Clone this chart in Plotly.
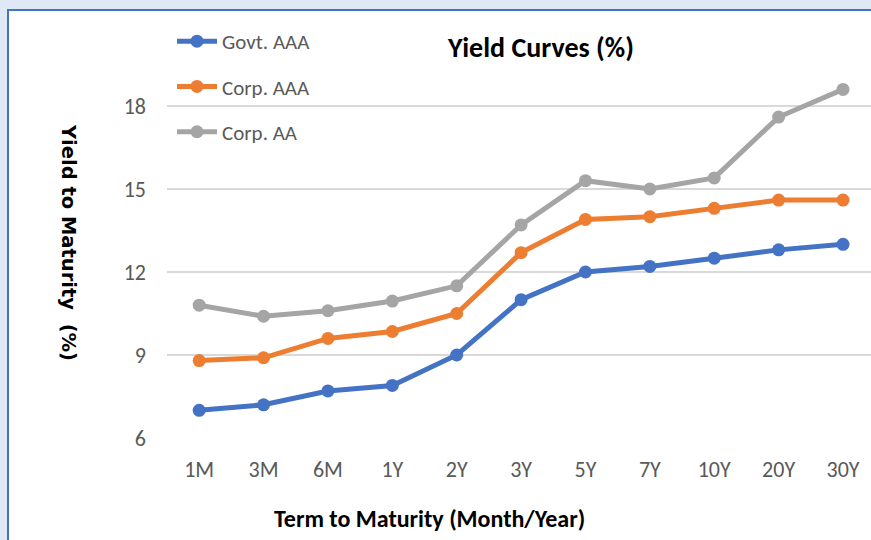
import plotly.graph_objects as go

terms = ["1M", "3M", "6M", "1Y", "2Y", "3Y", "5Y", "7Y", "10Y", "20Y", "30Y"]
govt_aaa = [7.0, 7.2, 7.7, 7.9, 9.0, 11.0, 12.0, 12.2, 12.5, 12.8, 13.0]
corp_aaa = [8.8, 8.9, 9.6, 9.85, 10.5, 12.7, 13.9, 14.0, 14.3, 14.6, 14.6]
corp_aa = [10.8, 10.4, 10.6, 10.95, 11.5, 13.7, 15.3, 15.0, 15.4, 17.6, 18.6]
y_ticks = [6, 9, 12, 15, 18]

series = [("Govt. AAA", govt_aaa, "#4472C4"),
          ("Corp. AAA", corp_aaa, "#ED7D31"),
          ("Corp. AA", corp_aa, "#A5A5A5")]

W, H = 871, 540
L, R, T, B = 167, 0, 30, 102
pw, ph = W - L - R, H - T - B

fig = go.Figure()
for i, (name, vals, col) in enumerate(series):
    fig.add_trace(go.Scatter(
        x=list(range(len(terms))), y=vals, name=name, mode="lines+markers",
        line=dict(color=col, width=5), marker=dict(color=col, size=13),
        legendgroup=f"g{i}"))

narrow = "Carlito, 'DejaVu Sans Condensed', 'Liberation Sans Narrow', sans-serif"

def px_x(p):
    return (p - L) / pw

def px_y(p):
    return (H - B - p) / ph

fig.add_shape(type="rect", xref="paper", yref="paper",
              x0=px_x(8), x1=px_x(880), y0=px_y(10), y1=px_y(548),
              fillcolor="white", line=dict(color="#4472C4", width=2), layer="below")

fig.add_annotation(text="<b>Term to Maturity (Month/Year)</b>", xref="paper", yref="paper",
                   x=px_x(429), y=px_y(518), xanchor="center", yanchor="middle",
                   showarrow=False, font=dict(family=narrow, size=24, color="#000000"))

fig.add_annotation(text="<b>Yield to Maturity  (%)</b>", xref="paper", yref="paper",
                   x=px_x(68), y=px_y(242), xanchor="center", yanchor="middle",
                   textangle=90, showarrow=False,
                   font=dict(family="DejaVu Sans", size=19.5, color="#000000"))

fig.update_layout(
    width=W, height=H,
    margin=dict(l=L, r=R, t=T, b=B, autoexpand=False),
    paper_bgcolor="#DEE9F5", plot_bgcolor="rgba(0,0,0,0)",
    title=dict(text="<b>Yield Curves (%)</b>", x=541 / W, xanchor="center",
               y=1 - 47 / H, yanchor="middle",
               font=dict(family=narrow, size=28, color="#000000")),
    showlegend=True,
    legend=dict(x=px_x(172), xanchor="left", y=px_y(21), yanchor="top",
                bgcolor="rgba(0,0,0,0)", tracegroupgap=15,
                font=dict(family=narrow, size=21, color="#595959"),
                itemwidth=40),
    xaxis=dict(range=[-0.5, (W - 199) / 64.4], tickmode="array",
               tickvals=list(range(len(terms))), ticktext=terms,
               showgrid=False, zeroline=False, showline=False, ticks="",
               tickfont=dict(family=narrow, size=22, color="#595959"),
               ticklabelstandoff=16),
    yaxis=dict(range=[6, 18 + (106 - T) / (83 / 3)], tickmode="array",
               tickvals=y_ticks, showgrid=True, gridcolor="#D9D9D9", gridwidth=2,
               zeroline=False, showline=False, ticks="",
               tickfont=dict(family=narrow, size=22, color="#595959"),
               ticklabelstandoff=20),
)

fig.write_html("out.html", config={"displayModeBar": False},
               post_script="document.body.style.margin='0';document.body.style.overflow='hidden';")
